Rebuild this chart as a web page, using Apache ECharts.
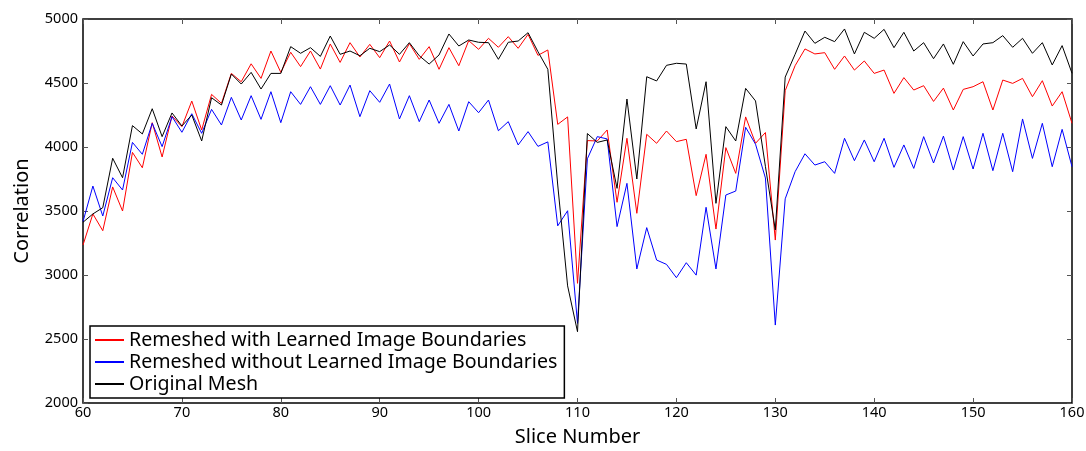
<!DOCTYPE html>
<html>
<head>
<meta charset="utf-8">
<script src="https://cdn.jsdelivr.net/npm/echarts@6/dist/echarts.min.js"></script>
<style>
html,body{margin:0;padding:0;background:#fff;}
#c{width:1086px;height:451px;}
</style>
</head>
<body>
<div id="c"></div>
<script>
const firstSlice = 60;
const withLearned = [3234,3477,3346,3688,3500,3958,3838,4190,3922,4242,
4159,4359,4133,4411,4341,4575,4510,4650,4536,4750,
4583,4740,4628,4750,4609,4805,4661,4815,4703,4802,
4698,4828,4664,4808,4685,4784,4607,4776,4635,4831,
4763,4849,4779,4862,4771,4880,4716,4758,4177,4235,
2935,4050,4047,4133,3568,4068,3482,4099,4029,4125,
4042,4060,3620,3943,3359,3995,3794,4235,4029,4113,
3273,4440,4635,4766,4727,4737,4607,4711,4601,4672,
4575,4601,4419,4542,4445,4479,4356,4460,4289,4450,
4471,4510,4289,4523,4497,4536,4393,4518,4320,4432,
4185];
const withoutLearned = [3417,3695,3461,3760,3664,4036,3943,4185,4003,4237,
4115,4260,4107,4294,4172,4388,4211,4401,4216,4432,
4190,4432,4333,4471,4333,4479,4328,4484,4237,4440,
4349,4492,4219,4401,4198,4367,4185,4333,4125,4354,
4268,4367,4127,4198,4016,4120,4005,4040,3384,3502,
2622,3908,4081,4063,3378,3716,3047,3370,3117,3083,
2979,3096,2999,3529,3047,3625,3656,4154,4022,3758,
2609,3595,3807,3947,3859,3885,3794,4068,3893,4055,
3885,4068,3841,4016,3833,4081,3875,4085,3820,4081,
3828,4107,3815,4107,3807,4219,3911,4185,3846,4138,
3846];
const originalMesh = [3412,3477,3526,3912,3760,4167,4102,4299,4081,4266,
4164,4250,4047,4385,4328,4570,4492,4583,4453,4575,
4575,4784,4732,4776,4708,4867,4724,4750,4713,4771,
4745,4797,4724,4815,4713,4648,4719,4883,4789,4836,
4818,4815,4685,4818,4828,4893,4745,4607,3703,2915,
2557,4105,4036,4055,3677,4375,3750,4549,4516,4638,
4654,4648,4141,4510,3560,4159,4047,4458,4360,3849,
3352,4546,4724,4906,4810,4857,4823,4922,4727,4896,
4849,4919,4776,4896,4750,4815,4690,4805,4646,4823,
4711,4805,4815,4870,4779,4849,4732,4815,4641,4792,
4576];
const seriesNames = ['Remeshed with Learned Image Boundaries','Remeshed without Learned Image Boundaries','Original Mesh'];
const seriesColors = ['#ff0000','#0000ff','#000000'];

const FONT = 'Noto Sans';
const slices = withLearned.map((v, i) => firstSlice + i);
const pairs = arr => arr.map((v, i) => [slices[i], v]);

const chart = echarts.init(document.getElementById('c'), null, {renderer: 'canvas'});
const tick = {show: true, inside: true, length: 5, lineStyle: {color: '#555', width: 1}};
const xBase = {type: 'value', min: 60, max: 160, interval: 10, splitLine: {show: false}, axisLine: {show: false}, axisTick: tick};
const yBase = {type: 'value', min: 2000, max: 5000, interval: 500, splitLine: {show: false}, axisLine: {show: false}, axisTick: tick};
chart.setOption({
  animation: false,
  backgroundColor: '#fff',
  grid: {left: 83, right: 14, top: 19, bottom: 48, containLabel: false, outerBoundsMode: 'none',
    show: true, borderColor: '#000', borderWidth: 1.5, backgroundColor: 'transparent'},
  xAxis: [
    Object.assign({}, xBase, {position: 'bottom', name: 'Slice Number', nameLocation: 'middle', nameGap: 24,
      nameTextStyle: {fontFamily: FONT, fontSize: 20, color: '#000'},
      axisLabel: {fontFamily: FONT, fontSize: 14.5, color: '#000', margin: 2, formatter: v => String(v)}}),
    Object.assign({}, xBase, {position: 'top', axisLabel: {show: false}})
  ],
  yAxis: [
    Object.assign({}, yBase, {position: 'left', name: 'Correlation', nameLocation: 'middle', nameGap: 51, nameRotate: 90,
      nameTextStyle: {fontFamily: FONT, fontSize: 20, color: '#000'},
      axisLabel: {fontFamily: FONT, fontSize: 14.5, color: '#000', margin: 5, formatter: v => String(v)}}),
    Object.assign({}, yBase, {position: 'right', axisLabel: {show: false}})
  ],
  legend: {
    orient: 'vertical', left: 90, top: 326,
    data: seriesNames.map(n => ({name: n, icon: 'rect'})),
    itemWidth: 29, itemHeight: 2, itemGap: 0,
    padding: [3, 7, 3, 5],
    borderColor: '#000', borderWidth: 1.5, backgroundColor: '#fff',
    textStyle: {fontFamily: FONT, fontSize: 19.6, color: '#000', lineHeight: 22}
  },
  series: [withLearned, withoutLearned, originalMesh].map((arr, k) => ({
    name: seriesNames[k], type: 'line', data: pairs(arr),
    xAxisIndex: 0, yAxisIndex: 0,
    showSymbol: false, symbol: 'none',
    itemStyle: {color: seriesColors[k]},
    lineStyle: {color: seriesColors[k], width: 1}
  }))
});
</script>
</body>
</html>
